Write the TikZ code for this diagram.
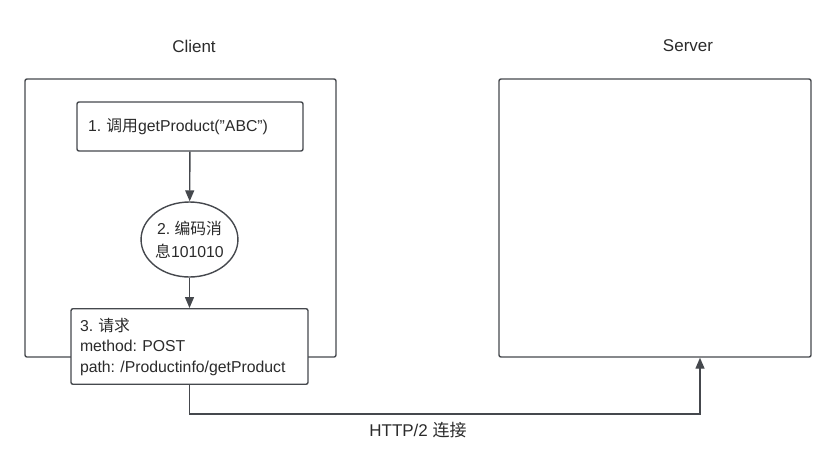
\documentclass[tikz,border=0pt]{standalone}
\usepackage{fontspec}
\setmainfont{Liberation Sans}
\newfontfamily\cjk{Noto Sans CJK SC}
\usetikzlibrary{arrows.meta, shapes.geometric, positioning}
\frenchspacing

\definecolor{linegray}{HTML}{45484D}
\definecolor{textgray}{HTML}{2B2B2B}

\tikzset{
	box/.style={draw=linegray, line width=1.4pt, rounded corners=2pt, text=textgray, font=\fontsize{15.8}{20.5}\selectfont},
	label/.style={text=textgray, font=\fontsize{17}{19}\selectfont},
	conn/.style={draw=linegray, line width=1.4pt, -{Triangle[length=11pt, width=9pt]}}
}

\begin{document}
\begin{tikzpicture}[x=1pt, y=-1pt]
		\useasboundingbox (0,0) rectangle (836,467);
		
		\node[label] (clientlabel) at (194,46) {Client};
		\node[label] (serverlabel) at (688,46) {Server};
		
		\draw[box] (25,79) rectangle (336,357);
		\node[box, minimum width=312pt, minimum height=278pt] (server) at (655,218) {};
		
		\node[box, fill=white, minimum width=226pt, minimum height=49pt, text width=204pt, align=left, inner sep=11pt] (call) at (190,126.5) {1. {\cjk 调用}getProduct(\symbol{"22}ABC\symbol{"22})};
		\node[box, ellipse, fill=white, minimum width=91pt, minimum height=75pt, align=center, inner sep=0pt, font=\fontsize{15.8}{23}\selectfont] (encode) at (189.5,239.5) {2. {\cjk 编码消}\\{\cjk 息}101010};
		\node[box, fill=white, minimum width=237pt, minimum height=72pt, align=left, text width=219pt, inner sep=9pt] (request) at (189.5,346.5) {3. {\cjk 请求}\\method: POST\\path: /Productinfo/getProduct};
		
		\draw[conn] (call) -- (encode);
		\draw[conn] (encode) -- (request);
		\draw[conn] (request.south) -- ++(0,29) -| (server.south -| 700,0);
		
		\node[label] (http) at (418,430) {HTTP/2 {\cjk 连接}};

	\end{tikzpicture}
\end{document}
